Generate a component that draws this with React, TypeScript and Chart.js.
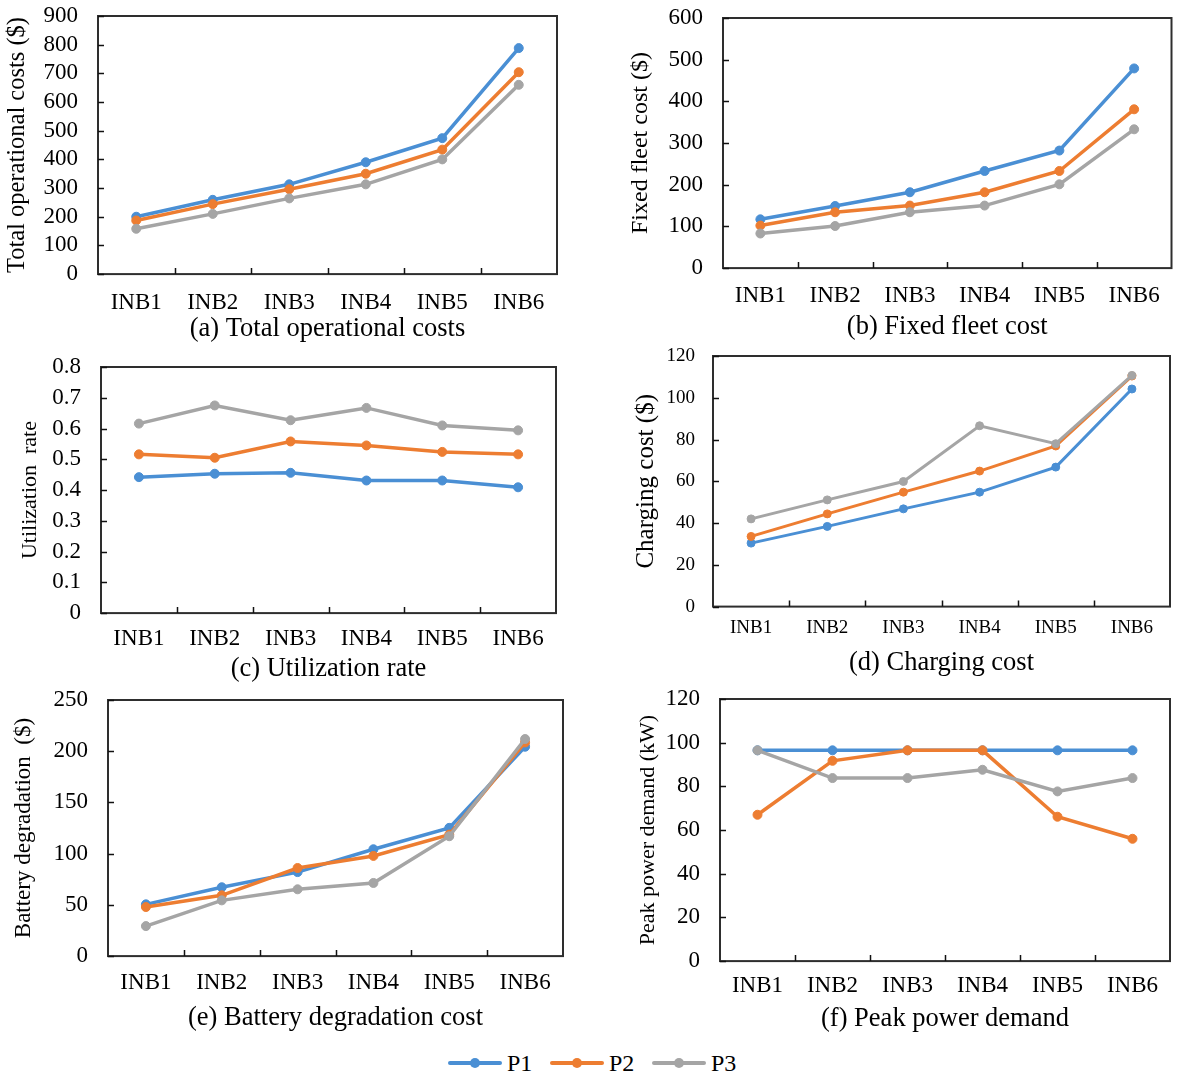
import React, { useEffect, useRef } from 'react';
import { Chart, registerables } from 'chart.js';

Chart.register(...registerables);

// ---------- data ----------
const categories = ['INB1', 'INB2', 'INB3', 'INB4', 'INB5', 'INB6'];
const seriesNames = ['P1', 'P2', 'P3'];
const seriesColors = ['#4a8fd4', '#ed7d31', '#a5a5a5'];

// (a) Total operational costs ($)
const totalP1 = [200, 259, 313, 390, 474, 788];
const totalP2 = [187, 244, 296, 350, 434, 704];
const totalP3 = [158, 210, 264, 313, 400, 660];

// (b) Fixed fleet cost ($)
const fleetP1 = [117, 149, 182, 233, 282, 479];
const fleetP2 = [102, 134, 150, 182, 233, 381];
const fleetP3 = [83, 101, 134, 150, 201, 333];

// (c) Utilization rate
const utilP1 = [0.442, 0.453, 0.456, 0.431, 0.431, 0.409];
const utilP2 = [0.516, 0.505, 0.558, 0.545, 0.524, 0.516];
const utilP3 = [0.616, 0.675, 0.627, 0.667, 0.61, 0.594];

// (d) Charging cost ($)
const chargeP1 = [30.4, 38.4, 46.8, 54.8, 66.8, 104.2];
const chargeP2 = [33.6, 44.4, 54.8, 64.9, 76.9, 110.4];
const chargeP3 = [42.0, 51.1, 59.9, 86.6, 78.0, 110.7];

// (e) Battery degradation ($)
const batteryP1 = [50.5, 67.2, 82, 104.3, 125.2, 204.4];
const batteryP2 = [47.9, 59.3, 86, 97.8, 118.6, 208.6];
const batteryP3 = [29.3, 54.4, 65.2, 71.4, 117, 211.9];

// (f) Peak power demand (kW)
const peakP1 = [96.5, 96.5, 96.5, 96.5, 96.5, 96.5];
const peakP2 = [67, 91.7, 96.5, 96.5, 66.1, 56];
const peakP3 = [96.5, 83.8, 83.8, 87.6, 77.7, 83.8];

const FONT = '"Liberation Serif", "Times New Roman", Times, serif';

type PanelCfg = {
  series: number[][];
  yMax: number;
  yStep: number;
  decimals: number;
  yTitle: string;
  caption: string;
  x0: number;
  w: number;
  l: number;
  t: number;
  r: number;
  b: number;
  yTitleX: number;
  catY: number;
  capY: number;
  tickSize: number;
  catSize: number;
  yTitleSize: number;
  capSize: number;
  tickPad: number;
  pointRadius: number;
  lineWidth: number;
};

const panels: PanelCfg[] = [
  {
    series: [totalP1, totalP2, totalP3], yMax: 900, yStep: 100, decimals: 0,
    yTitle: 'Total operational costs ($)', caption: '(a) Total operational costs',
    x0: 0, w: 590, l: 98, t: 16, r: 557, b: 274, yTitleX: 18, catY: 302.5, capY: 329,
    tickSize: 23, catSize: 23, yTitleSize: 24.5, capSize: 26.5, tickPad: 20, pointRadius: 4.5, lineWidth: 3.5,
  },
  {
    series: [fleetP1, fleetP2, fleetP3], yMax: 600, yStep: 100, decimals: 0,
    yTitle: 'Fixed fleet cost ($)', caption: '(b) Fixed fleet cost',
    x0: 590, w: 587, l: 723, t: 18, r: 1174, b: 268, yTitleX: 641, catY: 296, capY: 327,
    tickSize: 23, catSize: 23, yTitleSize: 24, capSize: 26.5, tickPad: 20, pointRadius: 4.5, lineWidth: 3.5,
  },
  {
    series: [utilP1, utilP2, utilP3], yMax: 0.8, yStep: 0.1, decimals: 1,
    yTitle: 'Utilization  rate', caption: '(c) Utilization rate',
    x0: 0, w: 590, l: 101, t: 367, r: 556, b: 613, yTitleX: 30, catY: 639, capY: 669,
    tickSize: 23, catSize: 23, yTitleSize: 22, capSize: 26.5, tickPad: 20, pointRadius: 4.5, lineWidth: 3.5,
  },
  {
    series: [chargeP1, chargeP2, chargeP3], yMax: 120, yStep: 20, decimals: 0,
    yTitle: 'Charging cost ($)', caption: '(d) Charging cost',
    x0: 590, w: 587, l: 713, t: 356, r: 1170, b: 606.5, yTitleX: 646, catY: 628, capY: 663,
    tickSize: 19, catSize: 19, yTitleSize: 25, capSize: 26.5, tickPad: 18, pointRadius: 4, lineWidth: 3,
  },
  {
    series: [batteryP1, batteryP2, batteryP3], yMax: 250, yStep: 50, decimals: 0,
    yTitle: 'Battery degradation  ($)', caption: '(e) Battery degradation cost',
    x0: 0, w: 590, l: 108, t: 700, r: 563, b: 956, yTitleX: 24, catY: 983, capY: 1018,
    tickSize: 23, catSize: 23, yTitleSize: 23, capSize: 26.5, tickPad: 20, pointRadius: 4.5, lineWidth: 3.5,
  },
  {
    series: [peakP1, peakP2, peakP3], yMax: 120, yStep: 20, decimals: 0,
    yTitle: 'Peak power demand (kW)', caption: '(f) Peak power demand',
    x0: 590, w: 587, l: 720, t: 699, r: 1170, b: 961, yTitleX: 648, catY: 986, capY: 1019,
    tickSize: 23, catSize: 23, yTitleSize: 22, capSize: 26.5, tickPad: 20, pointRadius: 4.5, lineWidth: 3.5,
  },
];

// room above the plot for the top tick label (Chart.js adds tick padding to it)
const PAD_TOP = 40;

const framePlugin = {
  id: 'frameAndInnerTicks',
  beforeDatasetsDraw(chart: any) {
    const { ctx, chartArea, scales } = chart;
    const { left, top, right, bottom } = chartArea;
    const x = scales.x;
    const y = scales.y;
    ctx.save();
    ctx.strokeStyle = '#2e2e2e';
    ctx.lineWidth = 2;
    ctx.strokeRect(left, top, right - left, bottom - top);
    ctx.strokeStyle = '#111';
    ctx.lineWidth = 1.5;
    ctx.beginPath();
    y.ticks.forEach((tk: any) => {
      const py = Math.round(y.getPixelForValue(tk.value)) + 0.5;
      ctx.moveTo(left, py);
      ctx.lineTo(left + 6, py);
    });
    for (let i = 1; i < x.ticks.length; i++) {
      const px = Math.round((x.getPixelForTick(i - 1) + x.getPixelForTick(i)) / 2) + 0.5;
      ctx.moveTo(px, bottom);
      ctx.lineTo(px, bottom - 6);
    }
    ctx.stroke();
    ctx.restore();
  },
};

function Panel({ cfg }: { cfg: PanelCfg }) {
  const ref = useRef<HTMLCanvasElement>(null);
  const capLH = cfg.capSize * 1.2;
  const catLH = cfg.catSize * 1.2;
  const ytLH = cfg.yTitleSize * 1.2;
  const H = cfg.capY - cfg.b + capLH / 2;
  const y0 = cfg.t - PAD_TOP;
  const h = Math.ceil(PAD_TOP + (cfg.b - cfg.t) + H);
  const W = cfg.l - cfg.x0;
  const padRight = cfg.x0 + cfg.w - cfg.r;

  useEffect(() => {
    const canvas = ref.current!;
    const chart = new Chart(canvas, {
      type: 'line',
      data: {
        labels: categories,
        datasets: cfg.series.map((vals, i) => ({
          label: seriesNames[i],
          data: vals,
          borderColor: seriesColors[i],
          backgroundColor: seriesColors[i],
          pointBackgroundColor: seriesColors[i],
          pointBorderColor: seriesColors[i],
          pointRadius: cfg.pointRadius,
          pointBorderWidth: 1,
          borderWidth: cfg.lineWidth,
          tension: 0,
          order: 3 - i,
          clip: false as any,
        })),
      },
      options: {
        animation: false,
        responsive: false,
        maintainAspectRatio: false,
        devicePixelRatio: 1,
        layout: { padding: { left: 0, top: PAD_TOP, right: padRight, bottom: 0 } },
        plugins: { legend: { display: false }, tooltip: { enabled: false } },
        scales: {
          x: {
            type: 'category',
            offset: true,
            grid: { display: false, drawTicks: false },
            border: { display: false },
            ticks: {
              font: { family: FONT, size: cfg.catSize, lineHeight: 1.2 },
              color: '#000',
              padding: cfg.catY - cfg.b - catLH / 2,
              autoSkip: false,
              maxRotation: 0,
              minRotation: 0,
            },
            title: {
              display: true,
              text: cfg.caption,
              color: '#000',
              font: { family: FONT, size: cfg.capSize, lineHeight: 1.2 },
              padding: { top: 0, bottom: 0 },
            },
            afterFit: (s: any) => {
              s.height = H;
            },
          },
          y: {
            type: 'linear',
            min: 0,
            max: cfg.yMax,
            grid: { display: false, drawTicks: false },
            border: { display: false },
            ticks: {
              stepSize: cfg.yStep,
              autoSkip: false,
              font: { family: FONT, size: cfg.tickSize, lineHeight: 1.2 },
              color: '#000',
              padding: cfg.tickPad,
              callback: (v: any) => String(Number(Number(v).toFixed(cfg.decimals))),
            },
            title: {
              display: true,
              text: cfg.yTitle,
              color: '#000',
              font: { family: FONT, size: cfg.yTitleSize, lineHeight: 1.2 },
              padding: { top: cfg.yTitleX - cfg.x0 - ytLH / 2, bottom: 0 },
            },
            afterFit: (s: any) => {
              s.width = W;
            },
          },
        },
      } as any,
      plugins: [framePlugin],
    });
    return () => chart.destroy();
  }, []);

  return (
    <canvas
      ref={ref}
      width={cfg.w}
      height={h}
      style={{ position: 'absolute', left: cfg.x0, top: y0, width: cfg.w, height: h }}
    />
  );
}

function Legend() {
  const startX = 448;
  const step = 102;
  const cy = 1063;
  return (
    <>
      {seriesNames.map((name, i) => {
        const lx = startX + i * step;
        return (
          <React.Fragment key={name}>
            <div
              style={{
                position: 'absolute', left: lx, top: cy - 2, width: 54, height: 4,
                background: seriesColors[i], borderRadius: 2,
              }}
            />
            <div
              style={{
                position: 'absolute', left: lx + 22, top: cy - 5, width: 10, height: 10,
                background: seriesColors[i], borderRadius: '50%',
              }}
            />
            <div
              style={{
                position: 'absolute', left: lx + 59, top: cy - 12, height: 24, lineHeight: '24px',
                fontFamily: FONT, fontSize: 24, color: '#000', whiteSpace: 'nowrap',
              }}
            >
              {name}
            </div>
          </React.Fragment>
        );
      })}
    </>
  );
}

export default function App() {
  return (
    <div
      style={{
        position: 'absolute', left: 0, top: 0, width: 1177, height: 1076,
        background: '#fff', overflow: 'hidden',
      }}
    >
      {panels.map((p, i) => (
        <Panel key={i} cfg={p} />
      ))}
      <Legend />
    </div>
  );
}
